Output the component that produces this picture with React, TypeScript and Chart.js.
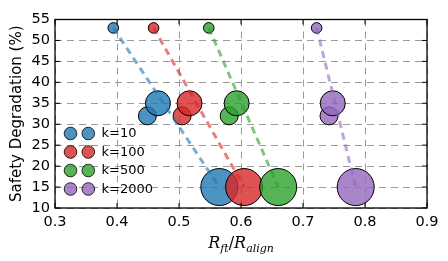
import React, { useEffect, useRef } from "react";
import { Chart, registerables } from "chart.js";

Chart.register(...registerables);

// ---- data ----
const seriesLabels = ["k=10", "k=100", "k=500", "k=2000"];
const seriesRGB = ["31,119,180", "214,39,40", "44,160,44", "148,103,189"];
const k10Ratio = [0.394, 0.449, 0.466, 0.565];
const k100Ratio = [0.459, 0.505, 0.517, 0.605];
const k500Ratio = [0.548, 0.581, 0.593, 0.66];
const k2000Ratio = [0.722, 0.742, 0.748, 0.785];
const degradation = [53, 32, 35, 15];
const bubbleRadius = [5.3, 9, 12.5, 18.5];
const xTickValues = [0.3, 0.4, 0.5, 0.6, 0.7, 0.8, 0.9];
const yTickValues = [10, 15, 20, 25, 30, 35, 40, 45, 50, 55];
const seriesRatios = [k10Ratio, k100Ratio, k500Ratio, k2000Ratio];

const SANS = "'DejaVu Sans', sans-serif";
const SERIF = "'DejaVu Serif', serif";

const decorPlugin = {
  id: "decor",
  afterDraw(chart: any) {
    const { ctx, chartArea: a, scales } = chart;
    ctx.save();
    // frame
    ctx.setLineDash([]);
    ctx.strokeStyle = "#000";
    ctx.lineWidth = 1.3;
    ctx.strokeRect(a.left, a.top, a.right - a.left, a.bottom - a.top);
    // inward ticks on all sides
    ctx.lineWidth = 1;
    ctx.beginPath();
    const tl = 5;
    xTickValues.forEach((v) => {
      const px = scales.x.getPixelForValue(v);
      ctx.moveTo(px, a.bottom);
      ctx.lineTo(px, a.bottom - tl);
      ctx.moveTo(px, a.top);
      ctx.lineTo(px, a.top + tl);
    });
    yTickValues.forEach((v) => {
      const py = scales.y.getPixelForValue(v);
      ctx.moveTo(a.left, py);
      ctx.lineTo(a.left + tl, py);
      ctx.moveTo(a.right, py);
      ctx.lineTo(a.right - tl, py);
    });
    ctx.stroke();

    // legend
    const rowY = [133.5, 152, 170.5, 189];
    seriesLabels.forEach((label, i) => {
      const y = rowY[i];
      [70.5, 88.3].forEach((cx) => {
        ctx.beginPath();
        ctx.arc(cx, y, 6.3, 0, Math.PI * 2);
        ctx.fillStyle = `rgba(${seriesRGB[i]},0.8)`;
        ctx.fill();
        ctx.strokeStyle = "#000";
        ctx.lineWidth = 0.8;
        ctx.stroke();
      });
      ctx.fillStyle = "#000";
      ctx.font = `13px ${SANS}`;
      ctx.textAlign = "left";
      ctx.textBaseline = "middle";
      ctx.fillText(label, 101.5, y + 0.5);
    });

    // y title
    ctx.save();
    ctx.translate(17, (a.top + a.bottom) / 2);
    ctx.rotate(-Math.PI / 2);
    ctx.font = `15px ${SANS}`;
    ctx.textAlign = "center";
    ctx.textBaseline = "middle";
    ctx.fillStyle = "#000";
    ctx.fillText("Safety Degradation (%)", 0, 0);
    ctx.restore();

    // x title (math style)
    const big = `italic 16px ${SERIF}`;
    const small = `italic 11px ${SERIF}`;
    const upright = `16px ${SERIF}`;
    const parts: [string, string, number][] = [
      ["R", big, 0],
      ["ft", small, 3.5],
      ["/", upright, 0],
      ["R", big, 0],
      ["align", small, 3.5],
    ];
    let total = 0;
    parts.forEach(([t, f]) => {
      ctx.font = f;
      total += ctx.measureText(t).width;
    });
    let x = (a.left + a.right) / 2 - total / 2;
    const base = 248;
    ctx.textAlign = "left";
    ctx.textBaseline = "alphabetic";
    ctx.fillStyle = "#000";
    parts.forEach(([t, f, dy]) => {
      ctx.font = f;
      ctx.fillText(t, x, base + dy);
      x += ctx.measureText(t).width;
    });
    ctx.restore();
  },
};

export default function App() {
  const ref = useRef<HTMLCanvasElement | null>(null);
  useEffect(() => {
    if (!ref.current) return;
    const datasets: any[] = [];
    seriesRatios.forEach((xs, i) => {
      datasets.push({
        type: "line",
        label: seriesLabels[i] + " trend",
        data: [
          { x: xs[0], y: degradation[0] },
          { x: xs[xs.length - 1], y: degradation[degradation.length - 1] },
        ],
        borderColor: `rgba(${seriesRGB[i]},0.6)`,
        borderWidth: 3,
        borderDash: [7, 5],
        pointRadius: 0,
        fill: false,
        order: 1,
      });
    });
    seriesRatios.forEach((xs, i) => {
      datasets.push({
        type: "scatter",
        label: seriesLabels[i],
        data: xs.map((x, j) => ({ x, y: degradation[j] })),
        pointRadius: bubbleRadius,
        pointHoverRadius: bubbleRadius,
        backgroundColor: `rgba(${seriesRGB[i]},0.8)`,
        borderColor: "#000",
        borderWidth: 1,
        order: 10 - i,
      });
    });

    const chart = new Chart(ref.current, {
      type: "scatter",
      data: { datasets },
      plugins: [decorPlugin],
      options: {
        animation: false,
        responsive: false,
        devicePixelRatio: 1,
        layout: { padding: { top: 16, right: 21, left: 0, bottom: 0 } },
        plugins: { legend: { display: false }, tooltip: { enabled: false } },
        scales: {
          x: {
            type: "linear",
            min: 0.3,
            max: 0.9,
            afterFit: (s: any) => {
              s.height = 53;
            },
            ticks: {
              stepSize: 0.1,
              callback: (v: any) => Number(v).toFixed(1),
              font: { family: SANS, size: 14.5 },
              color: "#000",
              padding: 6,
              maxRotation: 0,
              autoSkip: false,
            },
            grid: { color: "#9a9a9a", lineWidth: 1, drawTicks: false },
            border: { display: false, dash: [7, 5] },
          },
          y: {
            type: "linear",
            min: 10,
            max: 55,
            afterFit: (s: any) => {
              s.width = 55;
            },
            ticks: {
              stepSize: 5,
              callback: (v: any) => String(Math.round(Number(v))),
              font: { family: SANS, size: 14.5 },
              color: "#000",
              padding: 5,
              autoSkip: false,
            },
            grid: { color: "#9a9a9a", lineWidth: 1, drawTicks: false },
            border: { display: false, dash: [7, 5] },
          },
        },
      } as any,
    });
    return () => chart.destroy();
  }, []);
  return (
    <div style={{ position: "absolute", left: 0, top: 0, width: 448, height: 261, background: "#fff" }}>
      <canvas ref={ref} width={448} height={261} style={{ display: "block", width: 448, height: 261 }} />
    </div>
  );
}
